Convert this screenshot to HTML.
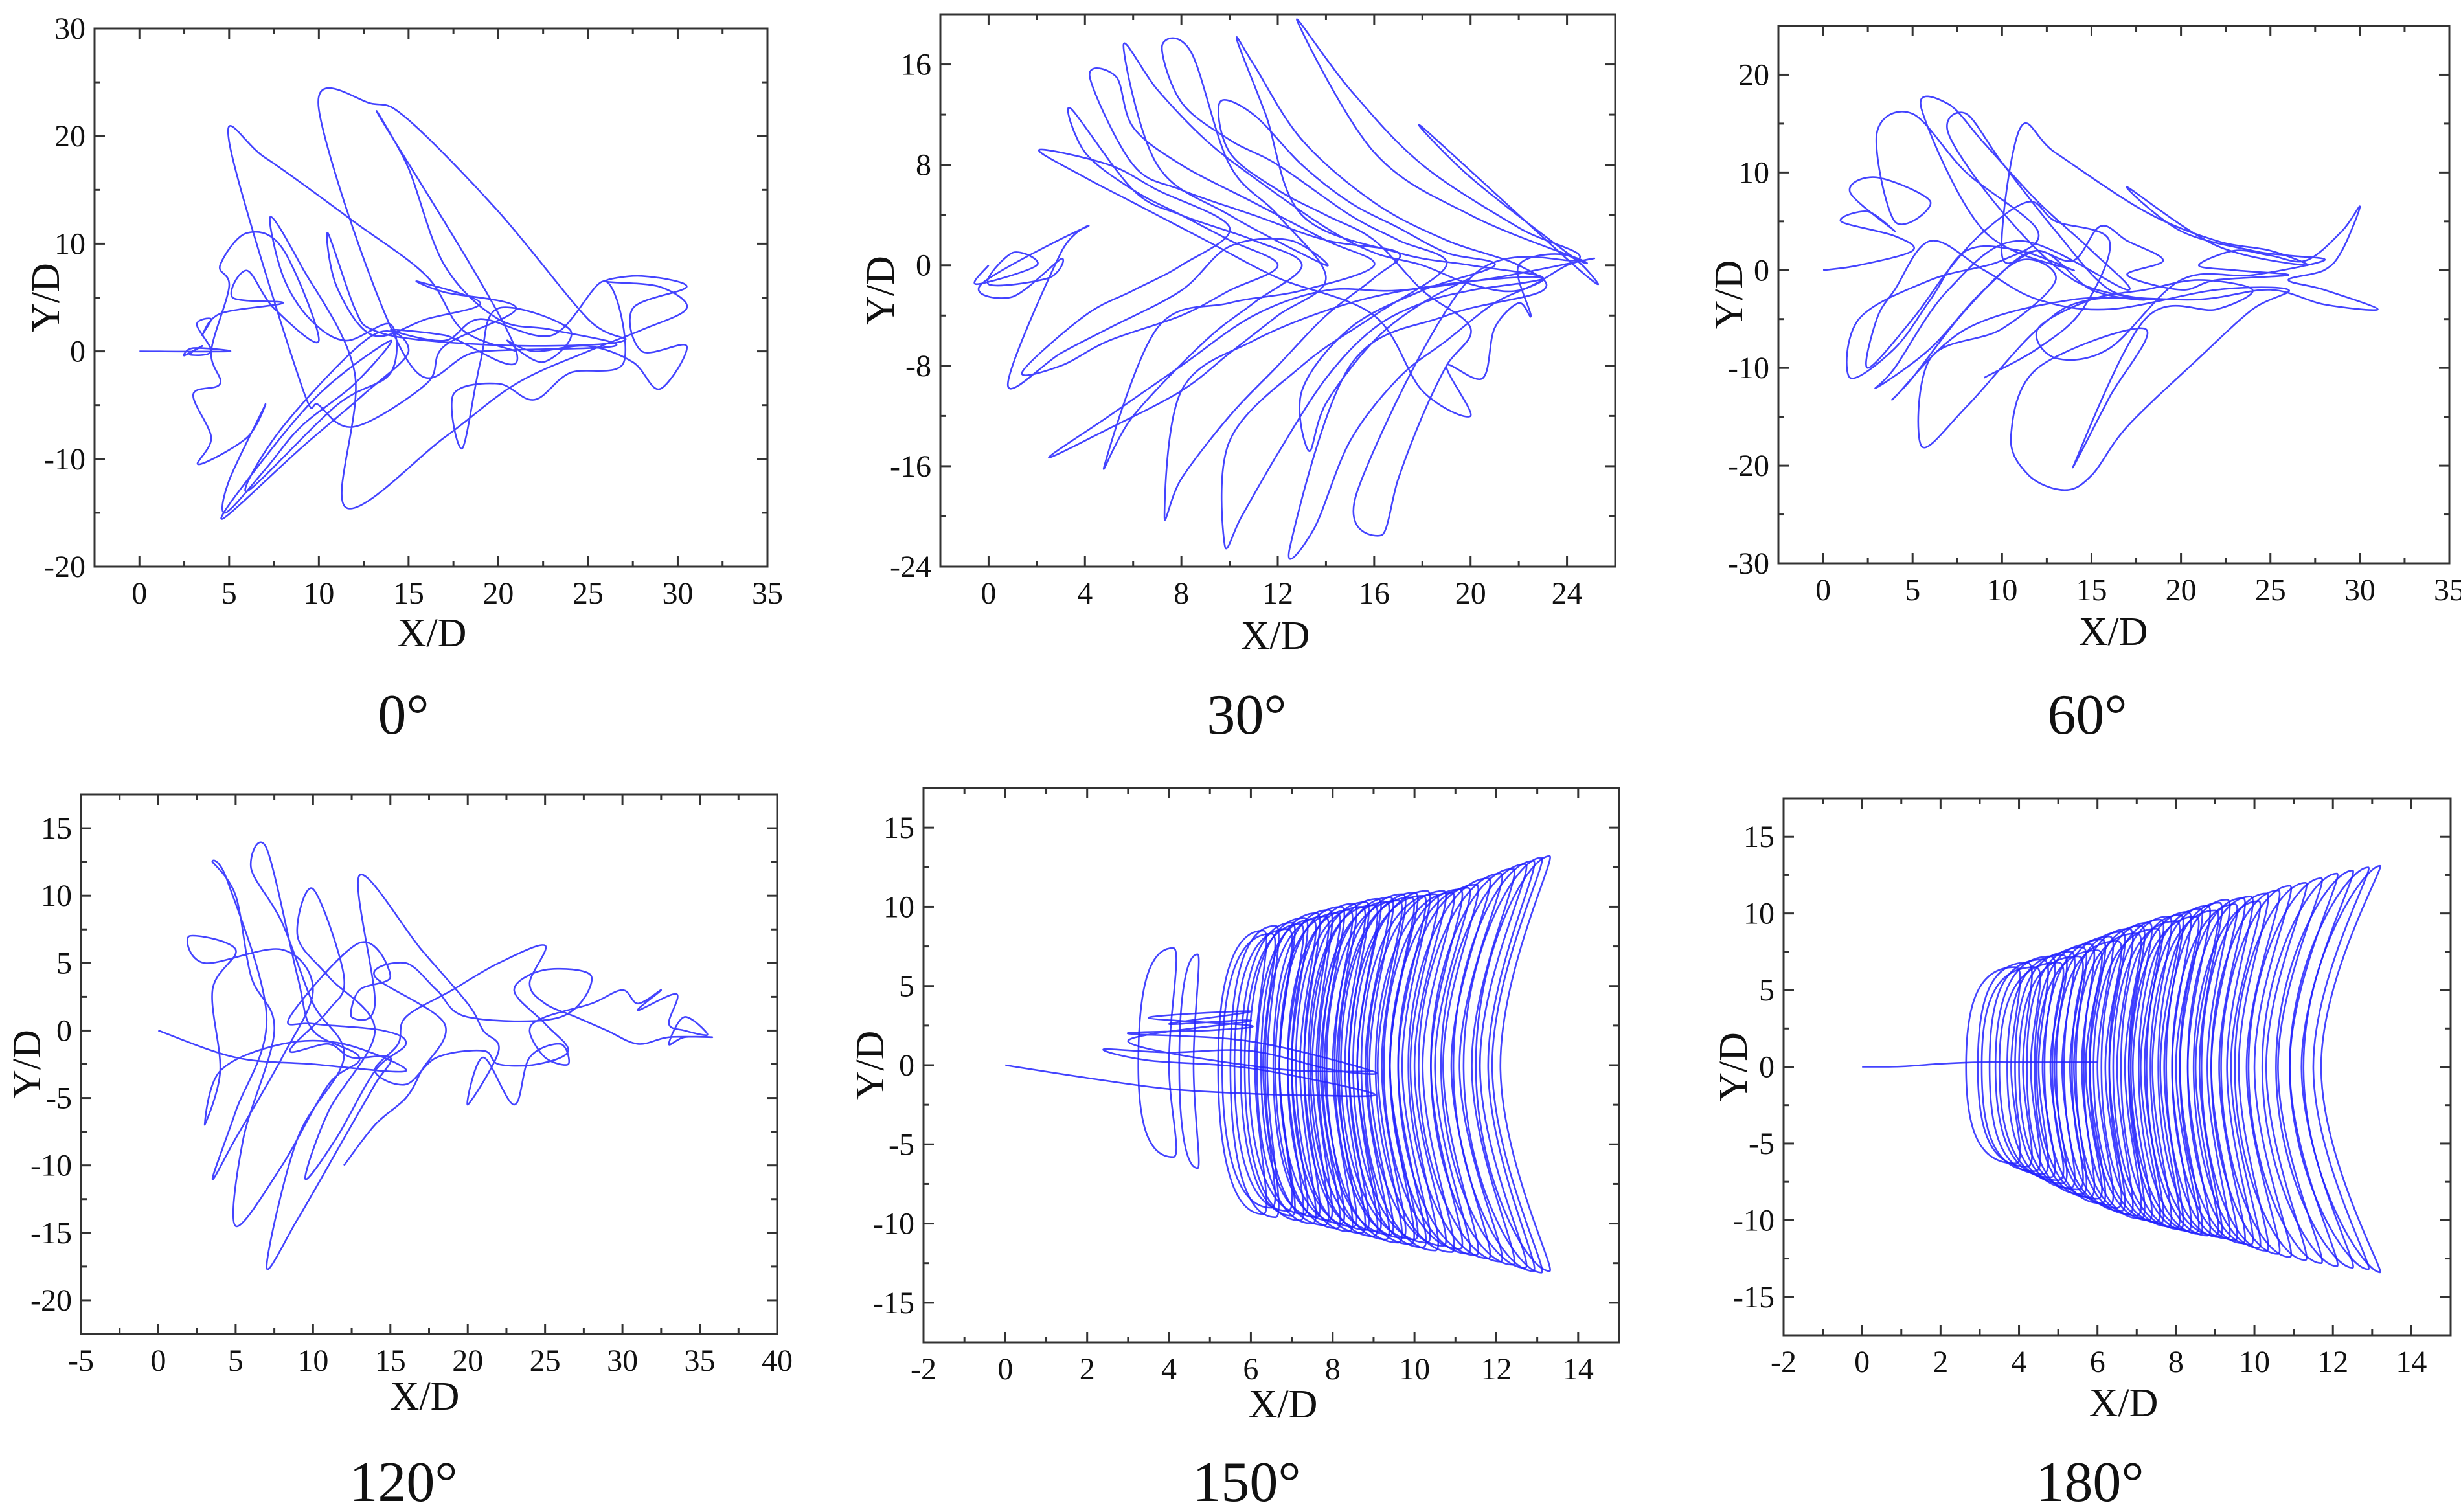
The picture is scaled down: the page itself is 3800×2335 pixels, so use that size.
<!DOCTYPE html>
<html>
<head>
<meta charset="utf-8">
<style>
html,body{margin:0;padding:0;background:#fff;}
svg{display:block;}
text{font-family:"Liberation Serif","DejaVu Serif",serif;fill:#111;}
</style>
</head>
<body>
<svg id="fig" width="3800" height="2335" viewBox="0 0 3800 2335" xmlns="http://www.w3.org/2000/svg">
<rect x="0" y="0" width="3800" height="2335" fill="#fff"/>
</svg>
<script>
// ---------- data: 0 deg trajectory ----------
const p1X=[0,5,3,2.5,3.5,2.8,4,3.2,4,3.5,4.5,8,5.2,6,7.5,10,8,6,4.5,5,4,4.5,3,4,3.3,6,7,5,4.8,7,9,12,14,10,6,4.7,9,12.5,15,13,8,6,11,14,14,11.5,9.5,8,7.3,9,12,11.5,17,21,25,28,30.5,29,26,28,30.5,27.5,28,30.5,29,27.5,25,22,20.5,22.5,24,20,19,18,17.5,20,22,24,27,26,23,19,17,14,17,21,13.5,15,17,20,23,26.5,19,15,10,13,15,20,25,27,22,16,13,12,10.5,11,13,16,19,15.5,17,21,17,16,12,10,9,5,7,12,16,18,21];
const p1Y=[0,0,0.3,-0.4,0.5,-0.3,0,2.5,3,1.5,3.5,4.5,5,7.5,4,1,9.5,11,8,6,0,-3,-4,-8,-10.5,-8,-5,-12,-15,-11,-7,-3,1,-4,-12,-15.5,-9,-4,0,1.5,-7,-13,-5,-2,2.5,1,3,7,12.5,8,-2,-14.5,-8,-3,0,2,4,6,6.5,7,6,4,0,0.5,-3.5,-1,0.5,0,1,-1,2,4,-1,-9,-4,-3,-4.5,-2,-1,6.5,1.5,3,1,2,1.5,0,21.5,17,8,3,2,0.5,0,-1,22.5,23,21.5,13,3,1,0.5,1,2,4,11,6,1.5,3,4.5,6.5,5.5,4,0.5,-3,-7,-5,-3,19.5,18,12,7,2,0];
// ---------- data: 30 deg trajectory ----------
const p2X=[0,-0.5,2,1,0,2.5,3,1,-0.3,4,3,0.8,3,5,8,10,12.5,14,10,7,5.6,7,9,11,14,16,18,20,22,24,25,21,17,14,11,8,5,2.5,5,8,10,12,14,12,10,8.4,7.2,8,10,12,15,17,19,16,13,10,9.8,10.5,12,14,16,18,20,23,20,17,13,11.5,10.3,11,13,16,19,22,23,19,15,12.5,13.5,15,17,19,21,23,19,15,11,8,7.3,8,10,12,14,16,17,14,11,8,6,4.2,5.3,6,8,11,14,16,13,10,7,4.8,6,9,11,13,11,8,6,3.4,4,6,8,10,12,10,8,5,3,1.4,4,6,8,10,7,5,2.1,4,6,9,12,16,18,20,19,20.5,21,22,22.5,22,24,25.3,24,18,20,24,24.5,20,16,12.8,15,18,22,24.5,20,15.3,16.3,17,18,19,20,18,16,14,12,10,9.6,11,13,15,17,19,21,18,15,13,13.3,14,16,18,20];
const p2Y=[0,-1.5,0,1,-1.5,-1,0.5,-2.5,-1.5,3,1,-9.5,-7,-5,-2,1.5,2,0,4,8,17.5,14,10,7,3,1,0,-1.5,-2,0,0.5,-1,-2,-2,-4,-8,-12,-15.3,-13,-10,-7,-4,-1,4,8,17,17.5,13,10,8,4,2,0,-4,-8,-14,-22.3,-20,-15,-9,-5,-3,-2,-1,0,1,4,12,18,16,10,5,2,0,-2,-4,-8,-22.5,-21,-14,-9,-6,-3,-1,-1.5,-3,-6,-10,-20,-17,-12,-8,-4,-1,1,2,4,6,8,15,15,11,8,5,2,0,-2,-3,-5,-16,-12,-6,-3,0,2,4,6,12.5,9,6,4,2,0,-2,-4,-6,-8,-8.5,-4,-2,0,3,6,8,9.2,7,5,2,-1,-4,-10,-12,-8,-9,-5,-3,-4,0,0.8,-1.5,0.5,11,7,1,0.5,4,9,19.5,14,8,3,0.5,-1,-18,-21.5,-17,-12,-8,-5,-2,2,4,6,9,13,12,8,5,3,1,0,-2,-5,-10,-14.8,-11,-6,-3,-1];
// ---------- data: 60 deg trajectory ----------
const p3X=[0,2,5,4,1,2.5,4,1.5,3,6,4,3,5,8,12,10,6,2,1.5,4,6,8,11,14,9,5.5,7,9,12,15,17,11,7,4,3,6,9,12,15,18,14,10,7,8,10,13,16,19,14,8,4,5,8,11,13,10,6,5.5,8,12,15,21,25,28,31,28,26,28,29,30,29,27,25,23,21,23,26,22,20,17,19,17,15.5,14,12,10,11,13,18,22,25,27,22,17,20,24,26,28,24,20,16,13,12,15,18,21,24,22,18,14,16,18,12,10.5,11.5,13.5,15,17,21,24,26,22,16,12,9,6,4,3,2.5,5,7,9,11.5,13,16,14.5,12,9];
const p3Y=[0,0.5,2,3.5,5,6,4,8,9.5,7,5,14,16,10,4,1,-1,-5,-11,-8,-3,2,2,0,4,16.5,17,13,7,2,-2,3,-2,-10,-12,-8,-2,2,-2,-3,-1,6,14,16,11,4,-2,-3,-3,-6,-13,-11,-4,1,-1,-6,-9,-18,-14,-6,-3,-3,-2,-3.5,-4,-2,-1,0,2,6.5,4,1,1.5,2,0.5,0,-0.5,-1,-2,-0.5,1,3,4.5,1,2,1.5,14.5,12,6,3,2,0.5,2.5,8.5,4,2,1.5,1,-0.5,-1,-8,-9,-6,-3,-2,-1,-2,-4,-5,-20,-13,-6,-10,-17,-21,-22.5,-21,-16,-9,-4,-2,-2,-4,-3,0,3,-2,-5,-10,-5,0,4,7,5,3,-4,-8,-11];
// ---------- data: 120 deg trajectory ----------
const p4X=[0,5,10,16,12,8,4,3,4,3.5,5,2,3,8,10,8,5,3.5,5,7,4.5,3.5,5,6,7.5,5.5,5,8,11,13,10,9,7,6,8,10,12,9,7,9,12,14,15,12.5,11,8.5,11,12,10,9,11,14,11,9.5,11.5,14,16,14.5,10,8.5,13,15,13,12.5,14,13,17,20,21,22,20,21,23,24,26,26.5,25,24,25,28,30,31,32.5,31,33.5,33,34,35.5,34,33,34,35.8,33,31,29,27,25,24,25,22,19,16,15.5,14,16,18,21,22,24.5,26.5,25,23,25,28,26,20,18,16,14,18.5,17,16,14,12];
const p4Y=[0,-2,-2.5,-3,-1,-1,-3,-7,-3,3,6,7,5,6,3,-2,-8,-11,-6,1,11,12.5,10,4,0,-8,-14.5,-10,-4,-2,0,4,13.5,12,8,2,-2,-8,-17.5,-14,-8,-4,-2,-2,-1,-1.5,1.5,4,10.5,7,4,0,-6,-11,-8,-3,-1,0,0.5,1,6.5,4,3,1,2,11.5,6,2,0,-1.5,-5.5,-2,-5.5,-2,-1,-2.5,-2,0,1,2,3,2,3,1.5,2.7,0.5,0,-0.3,1,-1,-0.5,-0.5,-0.5,-1,0,1,2,3.5,6.3,5,3,1,-1,-3,-4,-2,-1.5,-2.5,-2.5,-1.5,0.5,3,4.5,4,1,1,3,5,4,0.5,-3,-5,-7,-10];
// ---------- data: 150 deg loops ----------
const p5LoopL=[3.3,4.3,5.3,5.4,5.6,5.7,5.9,6.0,6.1,6.3,6.4,6.5,6.7,6.8,6.9,7.1,7.2,7.3,7.5,7.6,7.7,7.9,8.0,8.1,8.3,8.4,8.5,8.7,8.8,9.0,9.2,9.4,9.6,9.8,10.0,10.3,10.6,10.9,11.2,11.5,11.8,12.1];
const p5LoopR=[4.1,4.7,6.3,6.5,6.6,6.9,7.0,7.2,7.3,7.5,7.6,7.8,7.9,8.1,8.2,8.4,8.5,8.7,8.8,9.0,9.1,9.3,9.4,9.6,9.7,9.9,10.0,10.2,10.3,10.5,10.7,10.9,11.1,11.3,11.5,11.8,12.1,12.4,12.7,12.9,13.1,13.3];
const p5LoopTop=[7.4,7.0,8.5,8.3,8.8,8.6,9.0,8.9,9.3,9.2,9.6,9.4,9.8,9.6,10.0,9.8,10.2,10.0,10.3,10.1,10.5,10.3,10.6,10.4,10.8,10.6,10.9,10.7,11.0,10.8,11.0,10.9,11.1,11.2,11.4,11.8,12.1,12.4,12.7,12.9,13.1,13.2];
const p5LoopBot=[-5.8,-6.5,-9.4,-9.0,-9.6,-9.2,-9.5,-9.8,-9.4,-10.0,-9.6,-10.1,-9.8,-10.3,-10.0,-10.5,-10.2,-10.6,-10.4,-10.8,-10.5,-11.0,-10.7,-11.2,-10.9,-11.3,-11.0,-11.5,-11.2,-11.7,-11.4,-11.8,-11.6,-11.9,-12.0,-12.2,-12.4,-12.6,-12.8,-13.0,-13.1,-13.0];
const p5LoopBend=[0.1,0.1,0.2,0.2,0.2,0.2,0.3,0.3,0.3,0.3,0.3,0.3,0.3,0.4,0.4,0.4,0.4,0.4,0.4,0.4,0.5,0.5,0.5,0.5,0.5,0.5,0.6,0.6,0.6,0.6,0.7,0.7,0.7,0.8,0.8,0.9,1.0,1.0,1.1,1.1,1.2,1.2];
const p5LineX=[0,2,4,6,7.5,9,6,3.5,2.4,4,6,8,9,6,3,5,6,3.5,6,4,6,3,6.5,9];
const p5LineY=[0,-0.8,-1.5,-1.8,-1.9,-1.8,-0.2,0.3,1,0.8,0.9,-0.3,-0.4,1.5,2,2.2,2.5,3,3.4,2.6,2.8,1.5,-0.2,-0.4];
// ---------- data: 180 deg loops ----------
const p6LoopL=[2.7,3.0,3.1,3.3,3.5,3.6,3.8,4.0,4.1,4.3,4.5,4.6,4.8,5.0,5.1,5.3,5.5,5.6,5.8,6.0,6.1,6.3,6.5,6.6,6.8,7.0,7.1,7.3,7.5,7.6,7.8,8.0,8.2,8.4,8.6,8.8,9.0,9.3,9.6,10.0,10.4,10.8,11.2,11.6,12.0];
const p6LoopR=[3.9,4.2,4.4,4.6,4.8,5.0,5.1,5.3,5.5,5.6,5.8,6.0,6.1,6.3,6.5,6.6,6.8,7.0,7.1,7.3,7.5,7.6,7.8,8.0,8.1,8.3,8.5,8.6,8.8,9.0,9.1,9.3,9.5,9.7,9.9,10.1,10.3,10.6,10.9,11.3,11.7,12.1,12.5,12.9,13.2];
const p6LoopTop=[6.5,6.8,6.5,7.0,7.2,6.8,7.3,7.5,7.2,7.8,8.0,7.6,8.3,8.5,8.2,8.8,9.0,8.7,9.2,9.4,9.0,9.6,9.8,9.5,9.9,10.1,9.8,10.3,10.5,10.2,10.7,10.9,10.6,11.0,11.1,10.8,11.3,11.5,11.8,12.0,12.3,12.6,12.8,13.0,13.1];
const p6LoopBot=[-6.3,-6.5,-6.8,-7.0,-7.2,-7.4,-7.6,-7.9,-8.0,-8.3,-8.5,-8.6,-8.9,-9.0,-9.2,-9.4,-9.6,-9.7,-9.9,-10.0,-10.1,-10.2,-10.4,-10.5,-10.6,-10.7,-10.8,-10.9,-11.0,-11.0,-11.1,-11.2,-11.3,-11.5,-11.6,-11.8,-12.0,-12.2,-12.4,-12.6,-12.8,-13.0,-13.1,-13.2,-13.4];
const p6LoopBend=[0.1,0.1,0.1,0.1,0.2,0.2,0.2,0.2,0.2,0.2,0.2,0.3,0.3,0.3,0.3,0.3,0.3,0.3,0.3,0.4,0.4,0.4,0.4,0.4,0.4,0.4,0.5,0.5,0.5,0.5,0.5,0.5,0.6,0.6,0.6,0.7,0.7,0.8,0.9,1.0,1.1,1.2,1.3,1.4,1.5];
const p6LineX=[0,1,2,3,4,6];
const p6LineY=[0,0.02,0.2,0.3,0.3,0.3];
// ---------- axis tick values ----------
const p1XTicks=[0,5,10,15,20,25,30,35], p1YTicks=[-20,-10,0,10,20,30];
const p2XTicks=[0,4,8,12,16,20,24], p2YTicks=[-24,-16,-8,0,8,16];
const p3XTicks=[0,5,10,15,20,25,30,35], p3YTicks=[-30,-20,-10,0,10,20];
const p4XTicks=[-5,0,5,10,15,20,25,30,35,40], p4YTicks=[-20,-15,-10,-5,0,5,10,15];
const p5XTicks=[-2,0,2,4,6,8,10,12,14], p5YTicks=[-15,-10,-5,0,5,10,15];
const p6XTicks=[-2,0,2,4,6,8,10,12,14], p6YTicks=[-15,-10,-5,0,5,10,15];
const captions=["0°","30°","60°","120°","150°","180°"];

const NS="http://www.w3.org/2000/svg";
const svg=document.getElementById('fig');
function mk(tag,attrs,parent){const e=document.createElementNS(NS,tag);for(const k in attrs)e.setAttribute(k,attrs[k]);(parent||svg).appendChild(e);return e;}

const panels=[
 {key:'p1',L:146,R:1185,T:44,B:875,xd:[-2.5,35],yd:[-20,30],xt:p1XTicks,yt:p1YTicks,xm:2.5,ym:5,ylx:71,xlx:667,xly:998,cx:623,cy:1133},
 {key:'p2',L:1452,R:2494,T:22,B:875,xd:[-2,26],yd:[-24,20],xt:p2XTicks,yt:p2YTicks,xm:2,ym:4,ylx:1360,xlx:1969,xly:1002,cx:1925,cy:1133},
 {key:'p3',L:2746,R:3782,T:40,B:870,xd:[-2.5,35],yd:[-30,25],xt:p3XTicks,yt:p3YTicks,xm:2.5,ym:5,ylx:2670,xlx:3263,xly:996,cx:3223,cy:1133},
 {key:'p4',L:125,R:1200,T:1227,B:2060,xd:[-5,40],yd:[-22.5,17.5],xt:p4XTicks,yt:p4YTicks,xm:2.5,ym:2.5,ylx:42,xlx:656,xly:2177,cx:623,cy:2318},
 {key:'p5',L:1426,R:2500,T:1217,B:2073,xd:[-2,15],yd:[-17.5,17.5],xt:p5XTicks,yt:p5YTicks,xm:1,ym:2.5,ylx:1344,xlx:1981,xly:2189,cx:1925,cy:2318},
 {key:'p6',L:2754,R:3784,T:1233,B:2062,xd:[-2,15],yd:[-17.5,17.5],xt:p6XTicks,yt:p6YTicks,xm:1,ym:2.5,ylx:2677,xlx:3279,xly:2187,cx:3227,cy:2318}
];

function smoothPath(pts){
  if(pts.length<2)return '';
  let d='M'+pts[0][0].toFixed(1)+','+pts[0][1].toFixed(1);
  for(let i=0;i<pts.length-1;i++){
    const p0=pts[i-1]||pts[i],p1=pts[i],p2=pts[i+1],p3=pts[i+2]||p2;
    const c1x=p1[0]+(p2[0]-p0[0])/6,c1y=p1[1]+(p2[1]-p0[1])/6;
    const c2x=p2[0]-(p3[0]-p1[0])/6,c2y=p2[1]-(p3[1]-p1[1])/6;
    d+=' C'+c1x.toFixed(1)+','+c1y.toFixed(1)+' '+c2x.toFixed(1)+','+c2y.toFixed(1)+' '+p2[0].toFixed(1)+','+p2[1].toFixed(1);
  }
  return d;
}

const traj={p1:[p1X,p1Y],p2:[p2X,p2Y],p3:[p3X,p3Y],p4:[p4X,p4Y],p5:[p5LineX,p5LineY],p6:[p6LineX,p6LineY]};
const loops={p5:[p5LoopL,p5LoopR,p5LoopTop,p5LoopBot,p5LoopBend],p6:[p6LoopL,p6LoopR,p6LoopTop,p6LoopBot,p6LoopBend]};

panels.forEach((P,pi)=>{
  const g=mk('g',{});
  
  
  const sx=v=>P.L+(v-P.xd[0])/(P.xd[1]-P.xd[0])*(P.R-P.L);
  const sy=v=>P.B-(v-P.yd[0])/(P.yd[1]-P.yd[0])*(P.B-P.T);
  const clipId='clip'+pi;
  const cp=mk('clipPath',{id:clipId},g);
  mk('rect',{x:P.L,y:P.T,width:P.R-P.L,height:P.B-P.T},cp);
  const plot=mk('g',{'clip-path':'url(#'+clipId+')'},g);
  
  
  const strokeAttrs={fill:'none',stroke:'#2222ff','stroke-width':2.6,'stroke-opacity':0.85,'stroke-linejoin':'round'};
  if(loops[P.key]){
    const [Ls,Rs,Ts,Bs,Bd]=loops[P.key];
    for(let i=0;i<Ls.length;i++){
      const xt=sx(Rs[i]);
      const r=sx(Rs[i]-Bd[i]);
      const l=sx(Ls[i]-Bd[i]*0.5);
      const t=sy(Ts[i]),b=sy(Bs[i]),y0=sy(0);
      const w=Math.max(r-l,20);
      const d='M'+xt+','+t+' C'+(xt-w*0.9)+','+t+' '+l+','+(y0+(t-y0)*0.55)+' '+l+','+y0+
        ' C'+l+','+(y0+(b-y0)*0.55)+' '+(xt-w*0.9)+','+b+' '+xt+','+b+
        ' C'+(xt+w*0.3)+','+b+' '+r+','+(y0+(b-y0)*0.45)+' '+r+','+y0+
        ' C'+r+','+(y0+(t-y0)*0.45)+' '+(xt+w*0.3)+','+t+' '+xt+','+t+' Z';
      const e=mk('path',Object.assign({d:d},strokeAttrs),plot);
      
      
    }
  }
  const [XS,YS]=traj[P.key];
  const pts=XS.map((x,i)=>[sx(x),sy(YS[i])]);
  const tp=mk('path',Object.assign({d:smoothPath(pts)},strokeAttrs),plot);
  
  

  const fr=mk('rect',{x:P.L,y:P.T,width:P.R-P.L,height:P.B-P.T,fill:'none',stroke:'#333','stroke-width':3},g);
  
  
  const tk=mk('g',{stroke:'#333','stroke-width':3},g);
  
  
  for(let v=P.xd[0];v<=P.xd[1]+1e-6;v+=P.xm){
    const major=P.xt.some(t=>Math.abs(t-v)<1e-6);const len=major?16:9;const x=sx(v);
    if(x<=P.L+1||x>=P.R-1)continue;
    mk('line',{x1:x,y1:P.B,x2:x,y2:P.B-len},tk);mk('line',{x1:x,y1:P.T,x2:x,y2:P.T+len},tk);
  }
  for(let v=P.yd[0];v<=P.yd[1]+1e-6;v+=P.ym){
    const major=P.yt.some(t=>Math.abs(t-v)<1e-6);const len=major?16:9;const y=sy(v);
    if(y<=P.T+1||y>=P.B-1)continue;
    mk('line',{x1:P.L,y1:y,x2:P.L+len,y2:y},tk);mk('line',{x1:P.R,y1:y,x2:P.R-len,y2:y},tk);
  }
  P.xt.forEach(v=>{
    const t=mk('text',{x:sx(v),y:P.B+57,'font-size':48,'text-anchor':'middle'},g);t.textContent=String(v);
    
    
  });
  P.yt.forEach(v=>{
    const t=mk('text',{x:P.L-14,y:sy(v)+16,'font-size':48,'text-anchor':'end'},g);t.textContent=String(v);
    
    
  });
  const xl=mk('text',{x:P.xlx,y:P.xly,'font-size':62,'text-anchor':'middle'},g);xl.textContent='X/D';
  
  
  const ym=(P.T+P.B)/2;
  const yl=mk('text',{x:P.ylx,y:ym,'font-size':62,'text-anchor':'middle','dominant-baseline':'central',transform:'rotate(-90 '+P.ylx+' '+ym+')'},g);yl.textContent='Y/D';
  
  
  const cap=mk('text',{x:P.cx,y:P.cy,'font-size':88,'text-anchor':'middle'},g);cap.textContent=captions[pi];
  
  
});
</script>
</body>
</html>
